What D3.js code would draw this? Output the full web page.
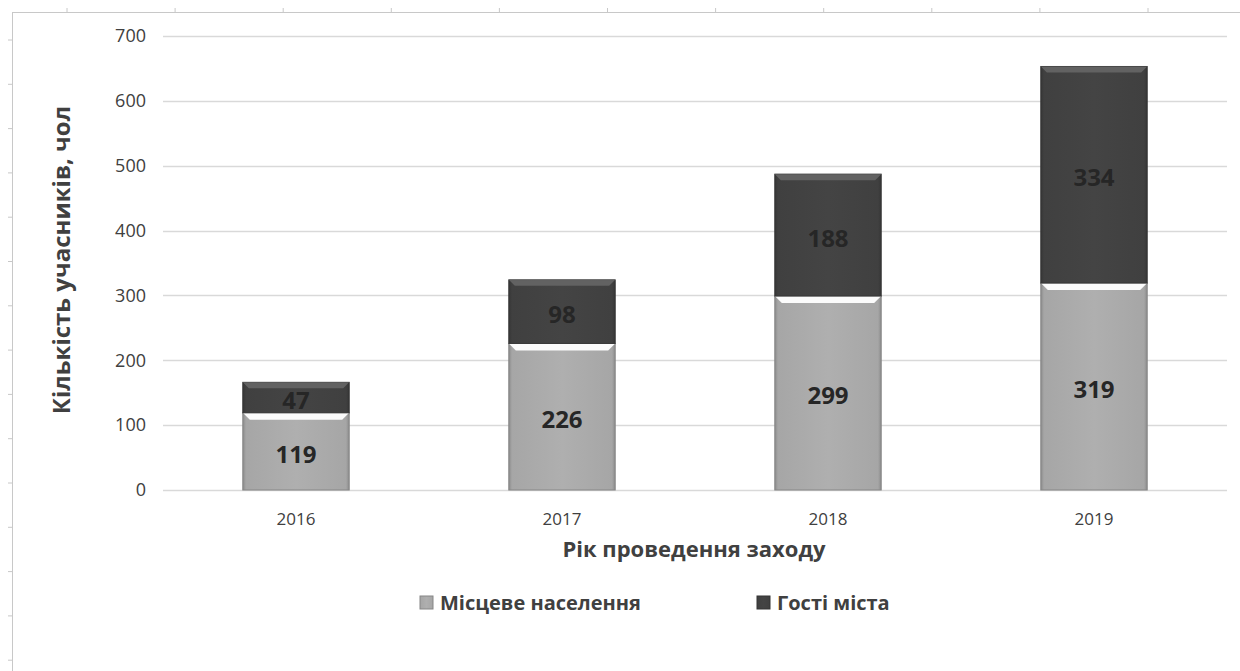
<!DOCTYPE html>
<meta charset="utf-8">
<style>
    body { margin: 0; background: #fff; }
    svg text { font-family: "Open Sans", "Noto Sans", sans-serif; fill: #404040; }
    .grid line { stroke: #d9d9d9; stroke-width: 1.3px; }
    .lbl { font-weight: bold; fill: #262626; }
</style>
<svg width="1240" height="671"></svg>
<script src="https://d3js.org/d3.v7.min.js"></script>
<script>
    var years = ["2016", "2017", "2018", "2019"];
    var locals = [119, 226, 299, 319];
    var guests = [47, 98, 188, 334];
    var yTicks = [0, 100, 200, 300, 400, 500, 600, 700];
    var seriesNames = ["Місцеве населення", "Гості міста"];
    var seriesColors = ["#a6a6a6", "#404040"];

    var svg = d3.select("svg");

    var margin = {left: 163, right: 13, top: 36, bottom: 181};
    var width = 1240, height = 671;

    var x = d3.scaleBand().domain(years)
        .range([margin.left, width - margin.right])
        .paddingInner(0.6).paddingOuter(0.3);
    var y = d3.scaleLinear().domain([0, 700])
        .range([height - margin.bottom, margin.top]);

    // ruler-like frame of the page
    var frame = svg.append("g").attr("stroke", "#c8c8c8").attr("fill", "none");
    frame.append("line").attr("x1", 12).attr("x2", 1240).attr("y1", 12.5).attr("y2", 12.5);
    frame.append("line").attr("x1", 12.5).attr("x2", 12.5).attr("y1", 12).attr("y2", 671);
    d3.range(67, 1240, 108.1).forEach(function(t) {
        frame.append("line").attr("x1", t).attr("x2", t).attr("y1", 8).attr("y2", 12);
    });
    d3.range(40, 671, 44.3).forEach(function(t) {
        frame.append("line").attr("x1", 8).attr("x2", 12).attr("y1", t).attr("y2", t);
    });

    // gradients for the bevel look
    var defs = svg.append("defs");
    seriesColors.forEach(function(c, i) {
        var g = defs.append("linearGradient").attr("id", "side" + i)
            .attr("x1", 0).attr("x2", 1).attr("y1", 0).attr("y2", 0);
        var dk = d3.color(c).darker(0.5), lt = d3.color(c).brighter(0.15);
        g.append("stop").attr("offset", "0").attr("stop-color", dk);
        g.append("stop").attr("offset", "0.03").attr("stop-color", c);
        g.append("stop").attr("offset", "0.5").attr("stop-color", lt);
        g.append("stop").attr("offset", "0.97").attr("stop-color", c);
        g.append("stop").attr("offset", "1").attr("stop-color", dk);
    });

    // gridlines
    svg.append("g").attr("class", "grid")
        .selectAll("line").data(yTicks).enter().append("line")
        .attr("x1", margin.left).attr("x2", width - margin.right)
        .attr("y1", function(d) { return Math.round(y(d)) + 0.5; })
        .attr("y2", function(d) { return Math.round(y(d)) + 0.5; });

    // y axis labels
    svg.append("g").selectAll("text").data(yTicks).enter().append("text")
        .attr("x", 146).attr("y", function(d) { return y(d); })
        .attr("dy", "0.35em").attr("text-anchor", "end")
        .style("font-size", "18px")
        .text(function(d) { return d; });

    // x axis labels
    svg.append("g").selectAll("text").data(years).enter().append("text")
        .attr("x", function(d) { return x(d) + x.bandwidth() / 2; })
        .attr("y", 525).attr("text-anchor", "middle")
        .style("font-size", "17px")
        .text(function(d) { return d; });

    var stacked = years.map(function(d, i) {
        return [
            {year: d, s: 0, y0: 0, y1: locals[i], v: locals[i]},
            {year: d, s: 1, y0: locals[i], y1: locals[i] + guests[i], v: guests[i]}
        ];
    });
    var segs = [].concat.apply([], stacked);

    var bars = svg.append("g").selectAll("g").data(segs).enter().append("g");
    bars.append("rect")
        .attr("x", function(d) { return x(d.year); })
        .attr("width", x.bandwidth())
        .attr("y", function(d) { return y(d.y1); })
        .attr("height", function(d) { return y(d.y0) - y(d.y1); })
        .attr("fill", function(d) { return "url(#side" + d.s + ")"; })
        .attr("stroke", function(d) { return d3.color(seriesColors[d.s]).darker(0.6); })
        .attr("stroke-width", 1);
    // top highlight bevel
    bars.append("path")
        .attr("d", function(d) {
            var x0 = x(d.year), x1 = x0 + x.bandwidth(), t = y(d.y1), b = d.s === 0 ? 7 : 6;
            return "M" + x0 + "," + t + "L" + x1 + "," + t + "L" + (x1 - b) + "," + (t + b) +
                "L" + (x0 + b) + "," + (t + b) + "Z";
        })
        .attr("fill", function(d) { return d.s === 0 ? "#ffffff" : "#6a6a6a"; })
        .attr("opacity", function(d) { return d.s === 0 ? 0.95 : 0.8; });
    bars.append("text").attr("class", "lbl")
        .attr("x", function(d) { return x(d.year) + x.bandwidth() / 2; })
        .attr("y", function(d) { return (y(d.y0) + y(d.y1)) / 2 + 3; })
        .attr("dy", "0.35em").attr("text-anchor", "middle")
        .style("font-size", "24px")
        .text(function(d) { return d.v; });

    // axis titles
    svg.append("text")
        .attr("transform", "translate(62,260) rotate(-90)")
        .attr("text-anchor", "middle").attr("dy", "0.35em")
        .style("font-size", "24px").style("font-weight", "bold")
        .text("Кількість учасників, чол");
    svg.append("text")
        .attr("x", 694).attr("y", 557).attr("text-anchor", "middle")
        .style("font-size", "22px").style("font-weight", "bold")
        .text("Рік проведення заходу");

    // legend
    var legendX = [420, 757];
    var leg = svg.append("g").selectAll("g").data(seriesNames).enter().append("g")
        .attr("transform", function(d, i) { return "translate(" + legendX[i] + ",596)"; });
    leg.append("rect").attr("width", 13).attr("height", 13)
        .attr("fill", function(d, i) { return "url(#side" + i + ")"; })
        .attr("stroke", function(d, i) { return d3.color(seriesColors[i]).darker(0.6); });
    leg.append("text").attr("x", 20).attr("y", 7).attr("dy", "0.35em")
        .style("font-size", "20px").style("font-weight", "bold")
        .text(function(d) { return d; });
</script>
